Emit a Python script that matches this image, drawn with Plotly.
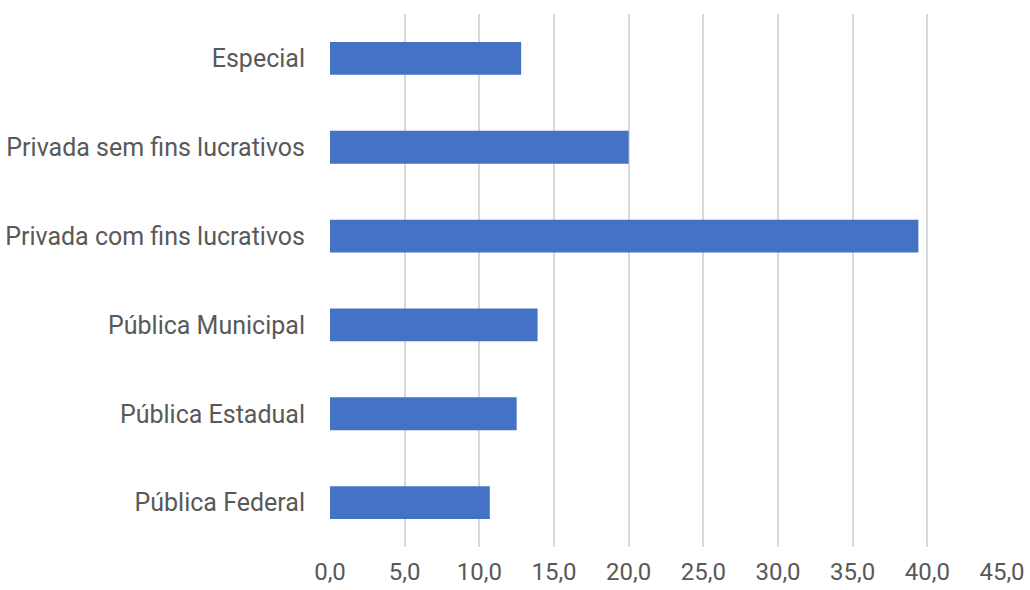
import plotly.graph_objects as go

categories = ["Pública Federal", "Pública Estadual", "Pública Municipal",
              "Privada com fins lucrativos", "Privada sem fins lucrativos", "Especial"]
values = [10.7, 12.5, 13.9, 39.4, 20.0, 12.8]
tick_vals = [0, 5, 10, 15, 20, 25, 30, 35, 40, 45]

fig = go.Figure(go.Bar(
    x=values, y=categories, orientation="h",
    marker=dict(color="#4472c4", line=dict(width=0)),
))

fig.update_layout(
    width=1030, height=590,
    margin=dict(l=330, r=28, t=14, b=43),
    paper_bgcolor="white", plot_bgcolor="white",
    font=dict(family="Roboto", size=25, color="#595959"),
    separators=",.",
    bargap=0.63,
    showlegend=False,
)
fig.update_xaxes(
    range=[0, 45], tickvals=tick_vals, tickformat=".1f",
    showgrid=True, gridcolor="#d9d9d9", gridwidth=2,
    zeroline=False, showline=False, ticks="", ticklabelstandoff=8,
    tickfont=dict(size=24),
    automargin=False,
)
fig.update_yaxes(
    showgrid=False, zeroline=False, showline=False, ticks="",
    ticklabelstandoff=24, automargin=False,
)

fig.write_html("out.html")
